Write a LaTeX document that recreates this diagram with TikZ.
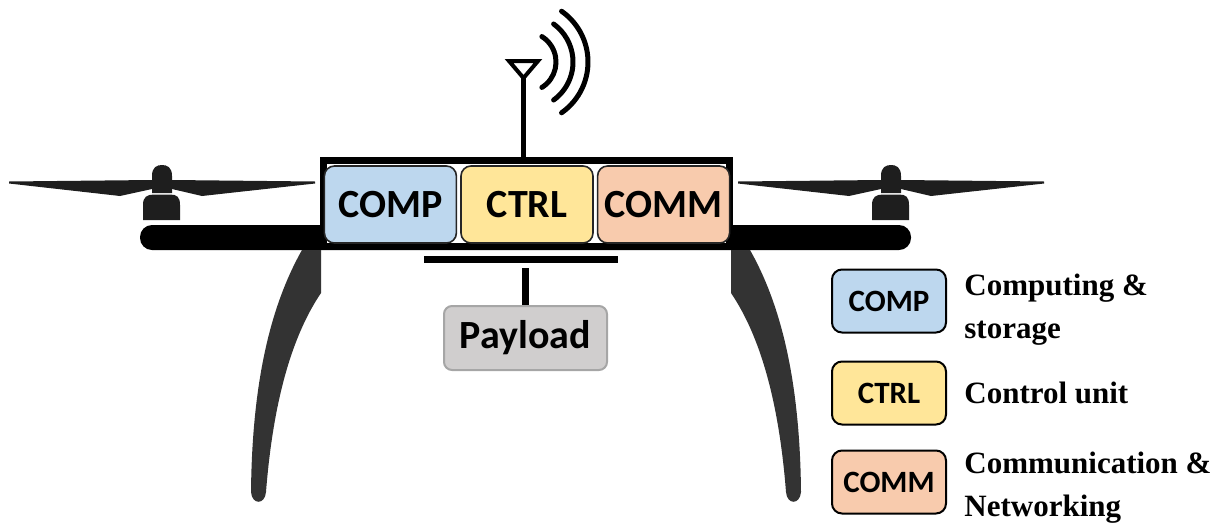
\documentclass[tikz,border=0pt]{standalone}
\usepackage{fontspec}
\setmainfont{Liberation Serif}
\newfontfamily\calibri{Carlito}
\usetikzlibrary{positioning}

\definecolor{compblue}{HTML}{BDD7EE}
\definecolor{ctrlyellow}{HTML}{FFE699}
\definecolor{commpeach}{HTML}{F8CBAD}
\definecolor{payloadgray}{HTML}{D0CECE}
\definecolor{leggray}{HTML}{333333}
\definecolor{rotorgray}{HTML}{1E1E1E}

\tikzset{
  unit/.style={draw=black!85, line width=0.8pt, rounded corners=5pt, minimum width=66pt,
    minimum height=38.5pt, inner sep=0pt, font=\calibri\bfseries\fontsize{20}{24}\selectfont},
  legbox/.style={draw=black, line width=1pt, rounded corners=5pt, minimum width=57pt,
    minimum height=31.5pt, inner sep=0pt, font=\calibri\bfseries\fontsize{15.5}{18}\selectfont},
  legtext/.style={anchor=base west, align=left, inner sep=0pt,
    font=\bfseries\fontsize{15.5}{21.5}\selectfont},
}

% one rotor, hub centred on x = #1
\newcommand\rotor[1]{%
  \begin{scope}[shift={(#1,0)}]
    \fill[rotorgray] (-153,181.5) -- (-10,180) -- (-10,189) -- (-42,196) -- (-153,183.5) -- cycle;
    \fill[rotorgray] (153,181.5) -- (10,180) -- (10,189) -- (40,196) -- (153,183.5) -- cycle;
    \fill[rotorgray] (-10,193) -- (-10,176) .. controls (-10,167) and (-5,165) .. (0,165)
      .. controls (5,165) and (10,167) .. (10,176) -- (10,193) -- cycle;
    \fill[rotorgray] (-19,220) -- (-19,205) .. controls (-19,197) and (-15,194.5) .. (-8,194.5)
      -- (8,194.5) .. controls (15,194.5) and (18,197) .. (18,205) -- (18,220) -- cycle;
  \end{scope}}

% one landing leg, mirrored for the right side
\newcommand\leg{%
  \fill[leggray] (302,250) -- (321,250) -- (321,293) .. controls (296,330) and (274,390) .. (266,492)
    .. controls (265,505) and (252,505) .. (251,492) .. controls (252,390) and (268,310) .. (302,250) -- cycle;}

\begin{document}
\begin{tikzpicture}[x=0.5pt,y=-0.5pt]
  \useasboundingbox (0,0) rectangle (1215,525);

  \rotor{162}
  \rotor{891}
  \fill[black, rounded corners=6pt] (140,225) rectangle (911,250);
  \leg
  \begin{scope}[shift={(1052,0)},xscale=-1]
    \leg
  \end{scope}

  \node[draw=black, line width=3.5pt, fill=white, minimum width=203pt, minimum height=43pt,
    inner sep=0pt] (fr) at (526.5,203.5) {};
  \node[unit, fill=ctrlyellow] (ctrl) at (527,204.5) {CTRL};
  \node[unit, fill=compblue, left=1.5pt of ctrl] (comp) {COMP};
  \node[unit, fill=commpeach, right=1.5pt of ctrl] (comm) {COMM};

  % antenna
  \coordinate (tip) at (523.5,78);
  \coordinate (wc) at (526,62);
  \draw[line width=2.5pt] (tip |- fr.north) -- (tip);
  \draw[line width=2pt] (509,61) -- (538,61) -- (tip) -- cycle;
  \foreach \r/\a in {15/58, 23.5/54, 31/55}
    \draw[line width=2.5pt, line cap=round] ([shift={(-\a:\r pt)}]wc) arc[start angle=-\a, end angle=\a, radius=\r pt];

  % payload mount
  \fill[black] (424,256) rectangle (618,263);
  \node[unit, fill=payloadgray, draw=black!35, line width=1pt, rounded corners=4pt,
    minimum width=81.5pt, minimum height=32pt] (pl) at (525.5,338) {Payload};
  \coordinate (mount) at (525.5,268);
  \draw[line width=3.5pt] (mount) -- (pl);

  % legend
  \node[legbox, fill=compblue] (lcomp) at (889,301) {COMP};
  \node[legbox, fill=ctrlyellow, below=13.5pt of lcomp] (lctrl) {CTRL};
  \node[legbox, fill=commpeach, below=12pt of lctrl] (lcomm) {COMM};
  \node[legtext] at (964,338) {Computing \&\\storage};
  \node[legtext] at (964,403) {Control unit};
  \node[legtext] at (964,516) {Communication \&\\Networking};
\end{tikzpicture}
\end{document}
